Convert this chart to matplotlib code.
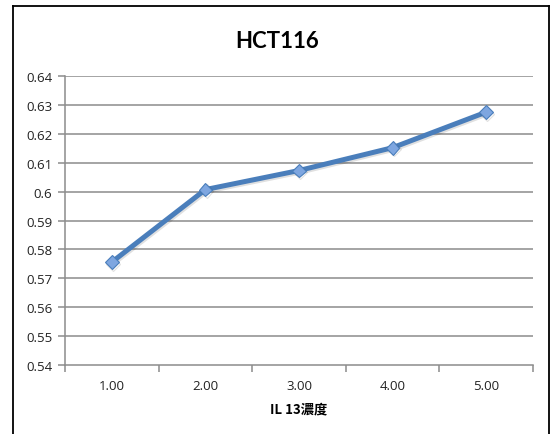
import matplotlib
matplotlib.use("Agg")
import matplotlib.pyplot as plt
import matplotlib.patheffects as pe
from matplotlib.lines import Line2D

categories = ["1.00", "2.00", "3.00", "4.00", "5.00"]
values = [0.5756, 0.6007, 0.6073, 0.6152, 0.6275]
y_ticks = [0.54, 0.55, 0.56, 0.57, 0.58, 0.59, 0.6, 0.61, 0.62, 0.63, 0.64]
y_tick_labels = ["0.54", "0.55", "0.56", "0.57", "0.58", "0.59", "0.6",
                 "0.61", "0.62", "0.63", "0.64"]
title = "HCT116"
x_label = "IL 13濃度"

W, H = 555, 435
fig = plt.figure(figsize=(W / 100, H / 100), dpi=100)
fig.patch.set_facecolor("white")

# outer chart frame (left, top, right edges)
fx0, fx1, fy1 = 13 / W, 549 / W, 1 - 7 / H
for xs, ys in [([fx0, fx0], [0, fy1]), ([fx0, fx1], [fy1, fy1]), ([fx1, fx1], [fy1, 0])]:
    fig.add_artist(Line2D(xs, ys, transform=fig.transFigure, color="black", lw=1.3))

ax = fig.add_axes([65 / W, 1 - 366 / H, (533 - 65) / W, (366 - 77) / H])
x = list(range(len(categories)))
ax.set_xlim(-0.5, len(categories) - 0.5)
ax.set_ylim(0.54, 0.64)

grid_c = "#8c8c8c"
ax.set_yticks(y_ticks)
ax.set_yticklabels(y_tick_labels)
for yv in y_ticks[1:]:
    ax.axhline(yv, color=grid_c, lw=1.1, zorder=1)

ax.set_xticks(x)
ax.set_xticklabels(categories)
ax.set_xticks([i - 0.5 for i in range(len(categories) + 1)], minor=True)
ax.tick_params(axis="x", which="major", length=0, pad=10)
ax.tick_params(axis="x", which="minor", length=5, color=grid_c, width=1.1)
ax.tick_params(axis="y", length=5, color=grid_c, width=1.1, pad=4)
ax.tick_params(labelsize=9.5, labelcolor="#222222")
for lab in ax.get_xticklabels() + ax.get_yticklabels():
    lab.set_family("Open Sans")

for side in ["top", "right"]:
    ax.spines[side].set_visible(False)
for side in ["left", "bottom"]:
    ax.spines[side].set_color(grid_c)
    ax.spines[side].set_linewidth(1.1)

ax.plot(x, values, color="#4a7ebb", lw=3.6, zorder=3,
        marker="D", markersize=7, markerfacecolor="#7ea6e0",
        markeredgecolor="#4a7ebb", markeredgewidth=0.8,
        path_effects=[pe.SimpleLineShadow(offset=(0.8, -1.2), alpha=0.12), pe.Normal()])

fig.text(0.5, 1 - 42 / H, title, ha="center", va="center",
         fontsize=16, fontweight="bold", family=["Lato", "DejaVu Sans"])
fig.text(299 / W, 1 - 409 / H, x_label, ha="center", va="center",
         fontsize=9.5, fontweight="bold",
         family=["Noto Sans CJK TC", "DejaVu Sans"])

fig.savefig("out.png", dpi=100, facecolor="white")
